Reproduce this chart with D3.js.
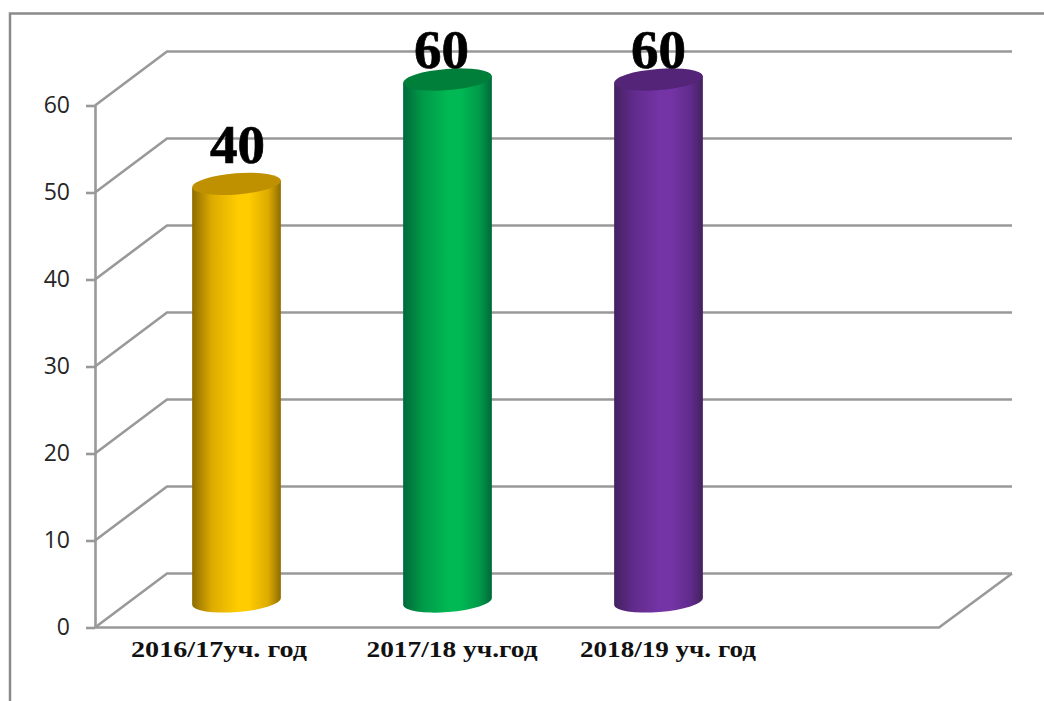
<!DOCTYPE html>
<html>
<head>
<meta charset="utf-8">
<script src="https://cdn.jsdelivr.net/npm/d3@7"></script>
<style>
  html, body { margin: 0; padding: 0; background: #fff; overflow: hidden; }
  svg { display: block; }
</style>
</head>
<body>
<svg id="chart" width="1044" height="701"></svg>
<script>
// the last slot of the original chart is empty
const categories = ["2016/17уч. год", "2017/18 уч.год", "2018/19 уч. год", ""];
const barValues = [48, 60, 60];
const valueLabels = ["40", "60", "60"];
const yTicks = [0, 10, 20, 30, 40, 50, 60];
const barColors = [
  { edge: "#8f6c00", mid: "#dcab00", light: "#ffcc00", top: "#bf9000" },
  { edge: "#00693a", mid: "#009a48", light: "#00b954", top: "#007f3b" },
  { edge: "#44215f", mid: "#612b8c", light: "#7434a6", top: "#542478" }
];

const svg = d3.select("#chart");

const x = d3.scaleBand().domain(categories).range([95, 939]);
const y = d3.scaleLinear().domain([0, 60]).range([627.5, 105.5]);

const depthX = 72, depthY = -54;
const gridColor = "#999";

// hand placed in the original, so they do not line up with the bars
const valueLabelShift = [[1, -20.5], [-6, -11.5], [0, -11.5]];
const categoryShift = [-17.5, 4.5, 9.5, 0];
const categoryWidth = [176, 171, 176, 0];

// outer frame, runs off the top right
svg.append("path")
  .attr("d", "M10,701V13.5H1044")
  .attr("fill", "none")
  .attr("stroke", "#8a8a8a")
  .attr("stroke-width", 2.5);

const grid = svg.append("g")
  .attr("fill", "none")
  .attr("stroke", gridColor)
  .attr("stroke-width", 2.6);

grid.selectAll("path.level")
  .data(yTicks)
  .enter()
  .append("path")
  .attr("class", "level")
  .attr("d", function(d) {
    return "M95," + y(d) + "L" + (95 + depthX) + "," + (y(d) + depthY) + "H1012";
  });

// floor edge
grid.append("path")
  .attr("d", "M95," + y(0) + "H939L1012," + (y(0) + depthY));

// y axis
const yAxis = svg.append("g")
  .attr("transform", "translate(95,0)")
  .call(d3.axisLeft(y).tickValues(yTicks).tickSize(9).tickSizeOuter(0).tickPadding(16));
yAxis.selectAll("path, line")
  .attr("stroke", gridColor)
  .attr("stroke-width", 2.6);
yAxis.selectAll("text")
  .attr("fill", "#262626")
  .style("font-family", "'Open Sans'")
  .style("font-size", "23px");

// cylinders
const defs = svg.append("defs");
barColors.forEach(function(c, i) {
  const g = defs.append("linearGradient").attr("id", "bar" + i);
  [[0, c.edge], [0.22, c.mid], [0.52, c.light], [0.64, c.light], [0.86, c.mid], [1, c.edge]].forEach(function(s) {
    g.append("stop").attr("offset", s[0]).attr("stop-color", s[1]);
  });
});

const rx = 44.5, ry = 10.6, tilt = -4.5;
const barDx = 36, barDy = -26;
const ex = rx * Math.cos(tilt * Math.PI / 180);
const ey = rx * Math.sin(tilt * Math.PI / 180);

const bars = svg.selectAll("g.bar")
  .data(barValues)
  .enter()
  .append("g")
  .attr("class", "bar");

function cx(i) {
  return x(categories[i]) + x.bandwidth() / 2 + barDx;
}

bars.append("path")
  .attr("fill", function(d, i) { return "url(#bar" + i + ")"; })
  .attr("d", function(d, i) {
    const top = y(d) + barDy, base = y(0) + barDy;
    return "M" + (cx(i) - ex) + "," + (top - ey) +
      "L" + (cx(i) - ex) + "," + (base - ey) +
      "A" + rx + "," + ry + " " + tilt + " 0 0 " + (cx(i) + ex) + "," + (base + ey) +
      "L" + (cx(i) + ex) + "," + (top + ey) + "Z";
  });

bars.append("ellipse")
  .attr("rx", rx)
  .attr("ry", ry)
  .attr("fill", function(d, i) { return barColors[i].top; })
  .attr("transform", function(d, i) {
    return "translate(" + cx(i) + "," + (y(d) + barDy) + ")rotate(" + tilt + ")";
  });

bars.append("text")
  .attr("text-anchor", "middle")
  .attr("x", function(d, i) { return cx(i) + valueLabelShift[i][0]; })
  .attr("y", function(d, i) { return y(d) + barDy + valueLabelShift[i][1]; })
  .style("font-family", "'Liberation Serif'")
  .style("font-weight", "bold")
  .style("font-size", "55px")
  .style("fill", "#000")
  .style("stroke", "#000")
  .style("stroke-width", 0.7)
  .text(function(d, i) { return valueLabels[i]; });

// category labels, stretched wide in the original
svg.selectAll("text.cat")
  .data(categories)
  .enter()
  .append("text")
  .attr("class", "cat")
  .attr("text-anchor", "middle")
  .attr("x", function(d, i) { return x(d) + x.bandwidth() / 2 + barDx + categoryShift[i]; })
  .attr("y", 657)
  .attr("textLength", function(d, i) { return categoryWidth[i]; })
  .attr("lengthAdjust", "spacingAndGlyphs")
  .style("font-family", "'Liberation Serif'")
  .style("font-weight", "bold")
  .style("font-size", "24px")
  .style("fill", "#111")
  .text(function(d) { return d; });
</script>
</body>
</html>
